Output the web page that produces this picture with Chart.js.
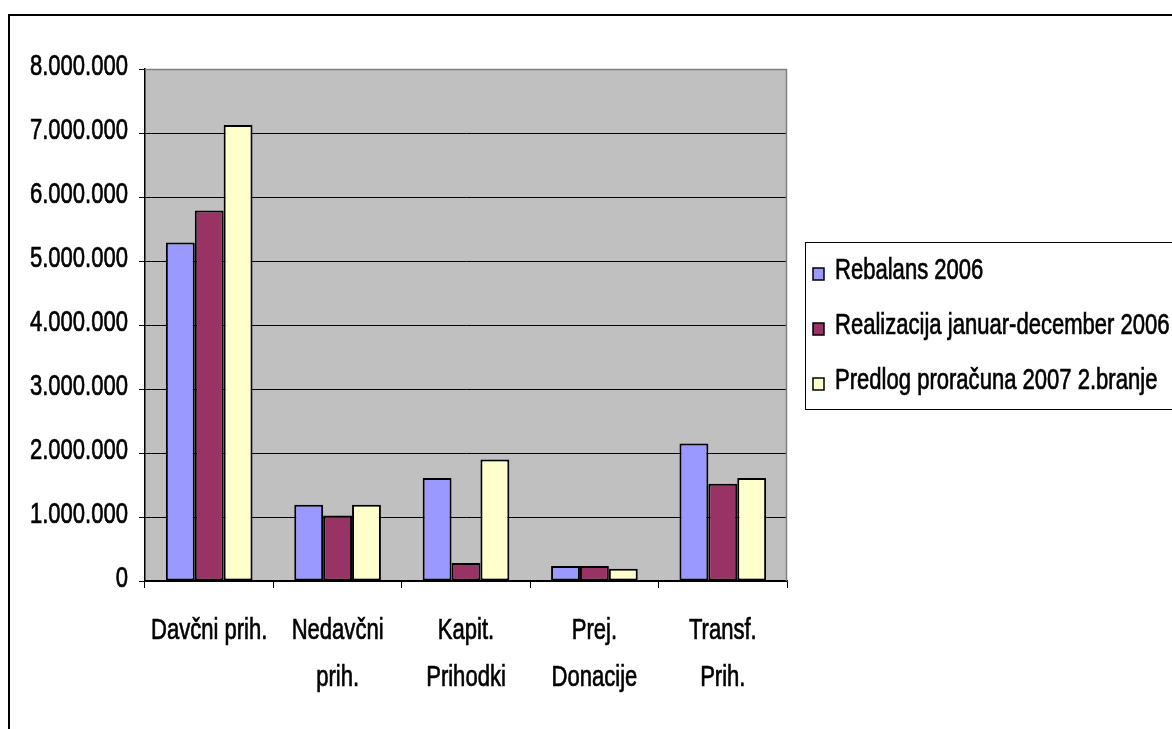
<!DOCTYPE html>
<html>
<head>
<meta charset="utf-8">
<script src="https://cdn.jsdelivr.net/npm/chart.js@4/dist/chart.umd.min.js"></script>
<style>
  html, body { margin: 0; padding: 0; background: #fff; }
  canvas { display: block; }
</style>
</head>
<body>
<canvas id="budgetChart" width="1172" height="729"></canvas>
<script>
// Data
const categories = [
  ["Davčni prih."],
  ["Nedavčni", "prih."],
  ["Kapit.", "Prihodki"],
  ["Prej.", "Donacije"],
  ["Transf.", "Prih."],
]
const seriesLabels = [
  "Rebalans 2006",
  "Realizacija januar-december 2006",
  "Predlog proračuna 2007 2.branje",
]
const rebalans = [5290000, 1190000, 1610000, 234000, 2150000]
const realizacija = [5790000, 1025000, 280000, 234000, 1520000]
const predlog = [7125000, 1190000, 1900000, 190000, 1610000]
const yMax = 8000000
const yStep = 1000000

// no narrow font installed, so Liberation Sans gets squeezed horizontally
const FONT = "30px 'Liberation Sans', Arial, sans-serif"
const SQUEEZE = 0.735
const colors = ["#9999FF", "#993366", "#FFFFCC"]

function formatNumber(v) {
  return String(v).replace(/\B(?=(\d{3})+(?!\d))/g, ".")
}

function narrowText(ctx, text, x, y, align) {
  ctx.save()
  ctx.translate(x, y)
  ctx.scale(SQUEEZE, 1)
  ctx.textAlign = align
  ctx.fillText(text, 0, 0)
  // a touch heavier, like the reference
  ctx.strokeStyle = "#000"
  ctx.lineWidth = 0.7
  ctx.strokeText(text, 0, 0)
  ctx.restore()
}

// plot background, outer frame, plot border
const frame = {
  id: "frame",
  beforeDraw(chart) {
    const { ctx, chartArea: a } = chart
    ctx.save()
    ctx.fillStyle = "#C0C0C0"
    ctx.fillRect(a.left, a.top, a.right - a.left, a.bottom - a.top)
    ctx.restore()
  },
  afterDraw(chart) {
    const { ctx, chartArea: a } = chart
    ctx.save()
    ctx.strokeStyle = "#000"
    ctx.lineWidth = 2
    ctx.strokeRect(9, 15, 3000, 3000)
    ctx.strokeStyle = "#808080"
    ctx.lineWidth = 1.5
    ctx.beginPath()
    ctx.moveTo(a.left, a.top + 0.5)
    ctx.lineTo(a.right - 0.5, a.top + 0.5)
    ctx.lineTo(a.right - 0.5, a.bottom)
    ctx.stroke()
    ctx.restore()
  },
}

// tick labels in narrow text, placed through the chart's scales
const narrowLabels = {
  id: "narrowLabels",
  afterDraw(chart) {
    const { ctx } = chart
    const xs = chart.scales.x
    const ys = chart.scales.y
    ctx.save()
    ctx.font = FONT
    ctx.fillStyle = "#000"
    ctx.textBaseline = "middle"
    ys.ticks.forEach((t) => {
      narrowText(ctx, formatNumber(t.value), ys.right - 17, ys.getPixelForValue(t.value) - 2, "right")
    })
    chart.data.labels.forEach((lab, i) => {
      const x = xs.getPixelForTick(i)
      lab.forEach((line, j) => {
        narrowText(ctx, line, x, xs.top + 50 + j * 47, "center")
      })
    })
    ctx.restore()
  },
}

// legend box drawn at the right, using the datasets
const boxLegend = {
  id: "boxLegend",
  afterDraw(chart) {
    const { ctx } = chart
    const left = 805, top = 242, bottom = 409
    ctx.save()
    ctx.strokeStyle = "#000"
    ctx.lineWidth = 1
    ctx.strokeRect(left + 0.5, top + 0.5, 1000, bottom - top)
    ctx.font = FONT
    ctx.textBaseline = "middle"
    chart.data.datasets.forEach((ds, i) => {
      const y = 271 + i * 55
      ctx.fillStyle = ds.backgroundColor
      ctx.fillRect(813, y - 3, 11, 12)
      ctx.strokeStyle = "#000"
      ctx.lineWidth = 1.5
      ctx.strokeRect(813, y - 3, 11, 12)
      ctx.fillStyle = "#000"
      narrowText(ctx, ds.label, 835, y, "left")
    })
    ctx.restore()
  },
}

const ctx = document.getElementById("budgetChart")

new Chart(ctx, {
  type: "bar",
  data: {
    labels: categories,
    datasets: [
      { label: seriesLabels[0], data: rebalans, backgroundColor: colors[0] },
      { label: seriesLabels[1], data: realizacija, backgroundColor: colors[1] },
      { label: seriesLabels[2], data: predlog, backgroundColor: colors[2] },
    ],
  },
  options: {
    responsive: false,
    animation: false,
    layout: {
      padding: { left: 0, top: 69, right: 385, bottom: 0 },
    },
    datasets: {
      bar: {
        borderColor: "#000",
        borderWidth: 2,
        borderSkipped: false,
        categoryPercentage: 0.675,
        barPercentage: 1,
      },
    },
    plugins: {
      legend: { display: false },
      tooltip: { enabled: false },
    },
    scales: {
      x: {
        afterFit: (scale) => { scale.height = 148 },
        grid: {
          offset: true,
          drawOnChartArea: false,
          drawTicks: true,
          tickLength: 7,
          color: "#000",
        },
        border: { color: "#000", width: 1.5 },
        ticks: { display: false },
      },
      y: {
        min: 0,
        max: yMax,
        afterFit: (scale) => { scale.width = 145 },
        grid: {
          color: "#000",
          lineWidth: 1,
          tickLength: 6,
        },
        border: { color: "#000", width: 1.5 },
        ticks: { display: false, stepSize: yStep },
      },
    },
  },
  plugins: [frame, narrowLabels, boxLegend],
})
</script>
</body>
</html>
